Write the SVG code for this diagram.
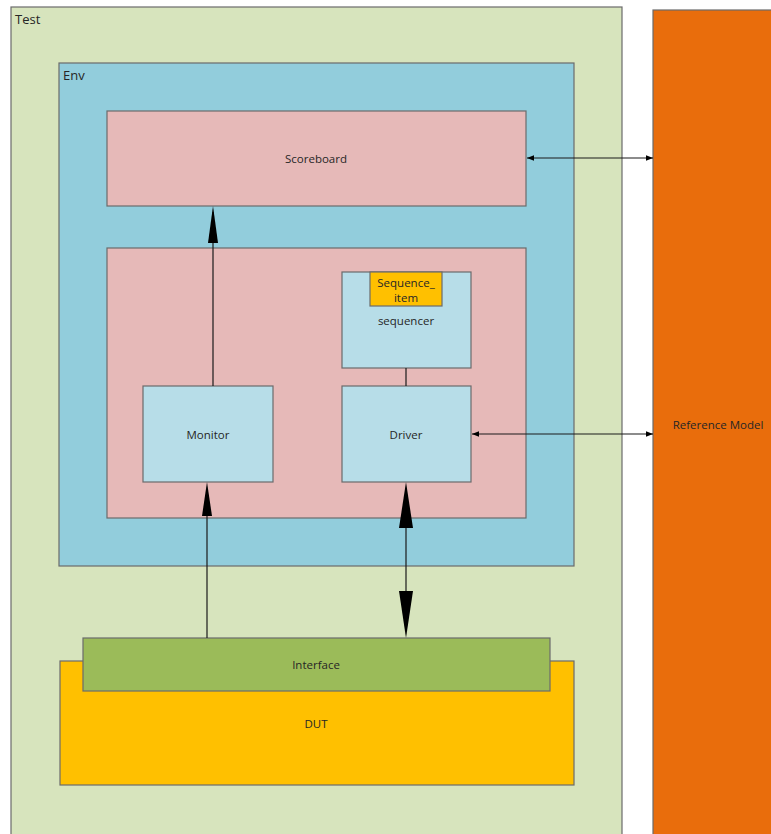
<svg xmlns="http://www.w3.org/2000/svg" width="771" height="834" viewBox="0 0 771 834">
<style>
.box{stroke:#6b6b6b;stroke-width:1.2}
.t{font-family:"Open Sans","Liberation Sans",sans-serif;font-size:11.5px;fill:#262626;text-anchor:middle;dominant-baseline:central}
.tl{font-family:"Open Sans","Liberation Sans",sans-serif;font-size:13px;fill:#262626}
.ln{stroke:#1a1a1a;stroke-width:1.2;fill:none}
.big{fill:#000}
</style>
<defs>
<marker id="sa" viewBox="0 0 10 10" refX="10" refY="5" markerWidth="7" markerHeight="7" markerUnits="userSpaceOnUse" orient="auto-start-reverse">
<path d="M0,1 L10,5 L0,9 z" fill="#000"/>
</marker>
</defs>
<rect width="771" height="834" fill="#ffffff"/>
<g id="test">
<rect class="box" x="11" y="7" width="611" height="840" fill="#d7e4bd" stroke="#8a8a7a"/>
<text class="tl" x="15" y="24">Test</text>
</g>
<g id="refmodel">
<rect class="box" x="653" y="10" width="130" height="840" fill="#e96d0c" stroke="#8a5a30"/>
<text class="t" x="718" y="424">Reference Model</text>
</g>
<g id="env">
<rect class="box" x="59" y="63" width="515" height="503" fill="#92cddc" stroke="#4d6670"/>
<text class="tl" x="63" y="80">Env</text>
</g>
<g id="scoreboard">
<rect class="box" x="107" y="111" width="419" height="95" fill="#e6b9b8"/>
<text class="t" x="316" y="158">Scoreboard</text>
</g>
<g id="agent">
<rect class="box" x="107" y="248" width="419" height="270" fill="#e6b9b8"/>
</g>
<g id="sequencer">
<rect class="box" x="342" y="272" width="129" height="96" fill="#b7dde8"/>
<text class="t" x="406" y="320">sequencer</text>
</g>
<g id="sequence_item">
<rect class="box" x="370" y="272" width="72" height="34" fill="#ffc000" stroke="#7a6a30"/>
<text class="t" x="406" y="282">Sequence_</text>
<text class="t" x="406" y="297">item</text>
</g>
<g id="monitor">
<rect class="box" x="143" y="386" width="130" height="96" fill="#b7dde8"/>
<text class="t" x="208" y="434">Monitor</text>
</g>
<g id="driver">
<rect class="box" x="342" y="386" width="129" height="96" fill="#b7dde8"/>
<text class="t" x="406" y="434">Driver</text>
</g>
<g id="dut">
<rect class="box" x="60" y="661" width="514" height="124" fill="#ffc000" stroke="#8a6a20"/>
<text class="t" x="316" y="723">DUT</text>
</g>
<g id="interface">
<rect class="box" x="83" y="638" width="467" height="53" fill="#9bbb59" stroke="#5f7040"/>
<text class="t" x="316" y="664">Interface</text>
</g>
<g id="connectors">
<line class="ln" x1="213" y1="386" x2="213" y2="212"/>
<path class="big" d="M213,206 L218,243 L208,243 z"/>
<line class="ln" x1="207" y1="638" x2="207" y2="490"/>
<path class="big" d="M207,482 L212,516 L202,516 z"/>
<line class="ln" x1="406" y1="368" x2="406" y2="386"/>
<line class="ln" x1="406" y1="490" x2="406" y2="630"/>
<path class="big" d="M406,482 L413,528 L399,528 z"/>
<path class="big" d="M406,638 L413,591 L399,591 z"/>
<line class="ln" x1="527" y1="158" x2="653" y2="158" marker-start="url(#sa)" marker-end="url(#sa)"/>
<line class="ln" x1="472" y1="434" x2="653" y2="434" marker-start="url(#sa)" marker-end="url(#sa)"/>
</g>
</svg>
